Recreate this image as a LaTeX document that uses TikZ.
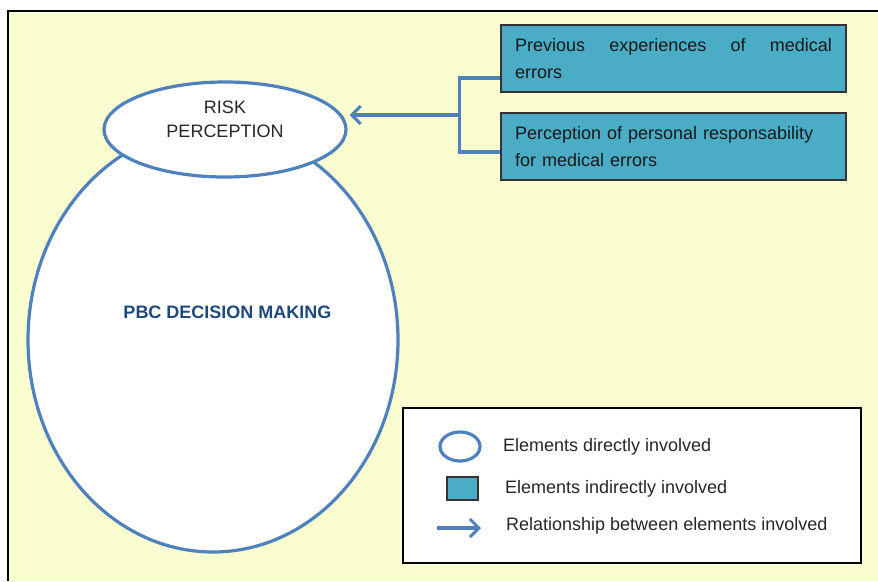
\documentclass[tikz,border=0pt]{standalone}
\usepackage{fontspec}
\setmainfont{Liberation Sans}
\usetikzlibrary{shapes.geometric,arrows.meta,calc}
\definecolor{bgyellow}{HTML}{FAFDCF}
\definecolor{lineblue}{HTML}{4F81BD}
\definecolor{boxteal}{HTML}{4BACC6}
\definecolor{titleblue}{HTML}{1F497D}
\definecolor{boxedge}{HTML}{333333}
\tikzset{
  elem/.style={ellipse, draw=lineblue, line width=3.2pt, fill=white, inner sep=0pt},
  indirect/.style={rectangle, draw=boxedge, line width=1.2pt, fill=boxteal, inner xsep=14pt, inner ysep=0pt,
    minimum width=345pt, minimum height=67pt, text width=317pt, align=left,
    font=\fontsize{18}{26.5}\selectfont, text=black!90},
  conn/.style={draw=lineblue, line width=3.2pt},
  arr/.style={conn, -{Straight Barb[length=9pt,width=18pt,line width=3pt]}},
  legtext/.style={anchor=west, font=\fontsize{18}{22}\selectfont, text=black!85, inner sep=0pt},
}
\begin{document}
\begin{tikzpicture}[x=1pt,y=-1pt]
\useasboundingbox (0,0) rectangle (878,581);
% frame
\fill[bgyellow] (8,11) rectangle (878,581);
\draw[black, line width=1.5pt] (8,581) -- (8,11) -- (878,11);
% ellipses
\node[elem, minimum width=370pt, minimum height=424pt] (pbc) at (213,340) {};
\node[font=\bfseries\fontsize{18}{22}\selectfont, text=titleblue] (pbctext) at (227.5,312) {PBC DECISION MAKING};
\node[elem, minimum width=242pt, minimum height=95pt] (risk) at (225,129.5) {};
\node[align=center, font=\fontsize{18}{24}\selectfont, text=black!85] (risktext) at (225,119) {RISK\\PERCEPTION};
% indirect boxes
\node[indirect] (b1) at (673.5,58.5) {Previous\hfill experiences\hfill of\hfill medical\\errors};
\node[indirect] (b2) at (673.5,146.5) {Perception of personal responsability\\for medical errors};
% connectors
\coordinate (c1) at ($(b1.west)+(0,19.5)$);
\coordinate (c2) at ($(b2.west)+(0,5.5)$);
\coordinate (jn) at ($(c1)!0.5!(c2)+(-41,0)$);
\draw[conn] (c1) -- ++(-41,0) |- (c2);
\coordinate (tip) at ($(risk.east |- jn)+(2,0)$);
\draw[arr] (jn) -- (tip);
% legend
\node[draw=black, line width=2pt, fill=white, minimum width=458pt, minimum height=155pt, inner sep=0pt] (legend) at (632,485.5) {};
\node[ellipse, draw=lineblue, line width=3.2pt, fill=white, minimum width=40pt, minimum height=29pt, inner sep=0pt] (lell) at (460,446.5) {};
\node[legtext] (t1) at (503,447) {Elements directly involved};
\node[rectangle, draw=boxedge, line width=1.2pt, fill=boxteal, minimum width=31pt, minimum height=23pt, inner sep=0pt] (lbox) at (462.5,488.5) {};
\node[legtext] (t2) at (505,489) {Elements indirectly involved};
\coordinate (la1) at (437,528);
\coordinate (la2) at (481,528);
\draw[arr] (la1) -- (la2);
\node[legtext] (t3) at (506,526) {Relationship between elements involved};
\end{tikzpicture}
\end{document}
